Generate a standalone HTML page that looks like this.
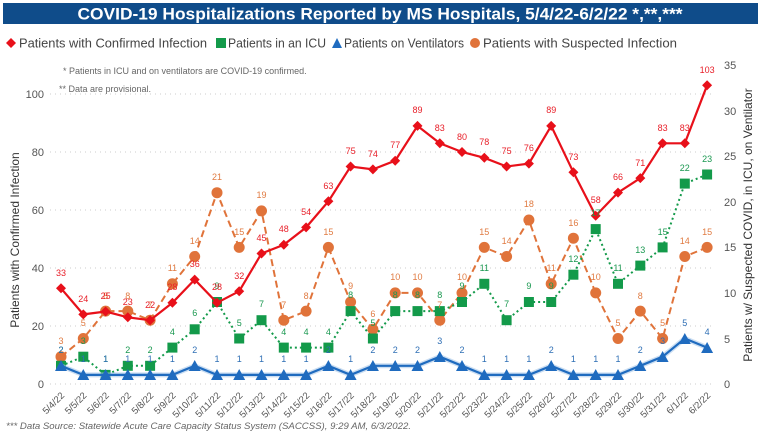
<!DOCTYPE html>
<html><head><meta charset="utf-8"><style>
body{margin:0;background:#fff;}
svg{display:block;font-family:"Liberation Sans",sans-serif;}
.lr text{fill:#e8202a;font-size:9px;text-anchor:middle}
.lg text{fill:#1a9850;font-size:9px;text-anchor:middle}
.lb text{fill:#2f6fb5;font-size:9px;text-anchor:middle}
.lo text{fill:#e07b42;font-size:9px;text-anchor:middle}
.xl text{font-size:9.5px;fill:#555;text-anchor:end}
</style></head><body>
<svg width="763" height="437" viewBox="0 0 763 437">
<rect x="3" y="3" width="755" height="21" fill="#0f4c8a"/>
<text x="380" y="19.5" fill="#fff" font-size="17" font-weight="bold" text-anchor="middle" textLength="605" lengthAdjust="spacingAndGlyphs">COVID-19 Hospitalizations Reported by MS Hospitals, 5/4/22-6/2/22 *,**,***</text>
<g font-size="12.5" fill="#444">
<path d="M11 38l5 5-5 5-5-5z" fill="#e8101a"/>
<text x="19" y="47.5" textLength="188" lengthAdjust="spacingAndGlyphs">Patients with Confirmed Infection</text>
<rect x="216" y="38" width="10" height="10" fill="#139a4a"/>
<text x="228" y="47.5" textLength="98" lengthAdjust="spacingAndGlyphs">Patients in an ICU</text>
<path d="M332 48l5-10 5 10z" fill="#1f6bbf"/>
<text x="344" y="47.5" textLength="120" lengthAdjust="spacingAndGlyphs">Patients on Ventilators</text>
<circle cx="475" cy="43" r="5" fill="#e0733a"/>
<text x="483" y="47.5" textLength="194" lengthAdjust="spacingAndGlyphs">Patients with Suspected Infection</text>
</g>
<text x="63" y="74" font-size="9" fill="#666">* Patients in ICU and on ventilators are COVID-19 confirmed.</text>
<text x="59" y="92" font-size="9" fill="#666">** Data are provisional.</text>
<g stroke="#ccc" stroke-dasharray="1 4" stroke-width="1">
<line x1="50" x2="715" y1="94" y2="94"/><line x1="50" x2="715" y1="152" y2="152"/><line x1="50" x2="715" y1="210" y2="210"/><line x1="50" x2="715" y1="268" y2="268"/><line x1="50" x2="715" y1="326" y2="326"/><line x1="50" x2="715" y1="384" y2="384"/>
</g>
<g font-size="11" fill="#555" text-anchor="end">
<text x="44" y="98">100</text><text x="44" y="156">80</text><text x="44" y="214">60</text><text x="44" y="272">40</text><text x="44" y="330">20</text><text x="44" y="388">0</text>
</g>
<g font-size="11" fill="#555">
<text x="724" y="69">35</text><text x="724" y="115">30</text><text x="724" y="160">25</text><text x="724" y="206">20</text><text x="724" y="251">15</text><text x="724" y="297">10</text><text x="724" y="343">5</text><text x="724" y="388">0</text>
</g>
<text transform="translate(19,240) rotate(-90)" font-size="12" fill="#333" text-anchor="middle">Patients with Confirmed Infection</text>
<text transform="translate(752,225) rotate(-90)" font-size="12" fill="#333" text-anchor="middle">Patients w/ Suspected COVID, in ICU, on Ventilator</text>

<!-- suspected -->
<polyline fill="none" stroke="#e0733a" stroke-width="2" stroke-dasharray="7 4" points="61,356.7 83.3,338.5 105.6,311.1 127.8,311.1 150.1,320.2 172.4,283.8 194.7,256.5 217,192.7 239.2,247.4 261.5,210.9 283.8,320.2 306.1,311.1 328.4,247.4 350.6,302 372.9,329.3 395.2,292.9 417.5,292.9 439.8,320.2 462,292.9 484.3,247.4 506.6,256.5 528.9,220 551.2,283.8 573.4,238.2 595.7,292.9 618,338.5 640.3,311.1 662.6,338.5 684.8,256.5 707.1,247.4"/>
<g fill="#e0733a"><circle cx="61" cy="356.7" r="5.5"/><circle cx="83.3" cy="338.5" r="5.5"/><circle cx="105.6" cy="311.1" r="5.5"/><circle cx="127.8" cy="311.1" r="5.5"/><circle cx="150.1" cy="320.2" r="5.5"/><circle cx="172.4" cy="283.8" r="5.5"/><circle cx="194.7" cy="256.5" r="5.5"/><circle cx="217" cy="192.7" r="5.5"/><circle cx="239.2" cy="247.4" r="5.5"/><circle cx="261.5" cy="210.9" r="5.5"/><circle cx="283.8" cy="320.2" r="5.5"/><circle cx="306.1" cy="311.1" r="5.5"/><circle cx="328.4" cy="247.4" r="5.5"/><circle cx="350.6" cy="302" r="5.5"/><circle cx="372.9" cy="329.3" r="5.5"/><circle cx="395.2" cy="292.9" r="5.5"/><circle cx="417.5" cy="292.9" r="5.5"/><circle cx="439.8" cy="320.2" r="5.5"/><circle cx="462" cy="292.9" r="5.5"/><circle cx="484.3" cy="247.4" r="5.5"/><circle cx="506.6" cy="256.5" r="5.5"/><circle cx="528.9" cy="220" r="5.5"/><circle cx="551.2" cy="283.8" r="5.5"/><circle cx="573.4" cy="238.2" r="5.5"/><circle cx="595.7" cy="292.9" r="5.5"/><circle cx="618" cy="338.5" r="5.5"/><circle cx="640.3" cy="311.1" r="5.5"/><circle cx="662.6" cy="338.5" r="5.5"/><circle cx="684.8" cy="256.5" r="5.5"/><circle cx="707.1" cy="247.4" r="5.5"/></g>

<!-- ICU -->
<polyline fill="none" stroke="#139a4a" stroke-width="2" stroke-dasharray="2 3" points="61,365.8 83.3,356.7 105.6,374.9 127.8,365.8 150.1,365.8 172.4,347.6 194.7,329.3 217,302 239.2,338.5 261.5,320.2 283.8,347.6 306.1,347.6 328.4,347.6 350.6,311.1 372.9,338.5 395.2,311.1 417.5,311.1 439.8,311.1 462,302 484.3,283.8 506.6,320.2 528.9,302 551.2,302 573.4,274.7 595.7,229.1 618,283.8 640.3,265.6 662.6,247.4 684.8,183.6 707.1,174.5"/>
<g fill="#139a4a"><rect x="56" y="360.8" width="10" height="10"/><rect x="78.3" y="351.7" width="10" height="10"/><rect x="100.6" y="369.9" width="10" height="10"/><rect x="122.8" y="360.8" width="10" height="10"/><rect x="145.1" y="360.8" width="10" height="10"/><rect x="167.4" y="342.6" width="10" height="10"/><rect x="189.7" y="324.3" width="10" height="10"/><rect x="212" y="297" width="10" height="10"/><rect x="234.2" y="333.5" width="10" height="10"/><rect x="256.5" y="315.2" width="10" height="10"/><rect x="278.8" y="342.6" width="10" height="10"/><rect x="301.1" y="342.6" width="10" height="10"/><rect x="323.4" y="342.6" width="10" height="10"/><rect x="345.6" y="306.1" width="10" height="10"/><rect x="367.9" y="333.5" width="10" height="10"/><rect x="390.2" y="306.1" width="10" height="10"/><rect x="412.5" y="306.1" width="10" height="10"/><rect x="434.8" y="306.1" width="10" height="10"/><rect x="457" y="297" width="10" height="10"/><rect x="479.3" y="278.8" width="10" height="10"/><rect x="501.6" y="315.2" width="10" height="10"/><rect x="523.9" y="297" width="10" height="10"/><rect x="546.2" y="297" width="10" height="10"/><rect x="568.4" y="269.7" width="10" height="10"/><rect x="590.7" y="224.1" width="10" height="10"/><rect x="613" y="278.8" width="10" height="10"/><rect x="635.3" y="260.6" width="10" height="10"/><rect x="657.6" y="242.4" width="10" height="10"/><rect x="679.8" y="178.6" width="10" height="10"/><rect x="702.1" y="169.5" width="10" height="10"/></g>

<!-- vent -->
<polyline fill="none" stroke="#a9c8ea" stroke-width="5" opacity="0.6" points="61,365.8 83.3,374.9 105.6,374.9 127.8,374.9 150.1,374.9 172.4,374.9 194.7,365.8 217,374.9 239.2,374.9 261.5,374.9 283.8,374.9 306.1,374.9 328.4,365.8 350.6,374.9 372.9,365.8 395.2,365.8 417.5,365.8 439.8,356.7 462,365.8 484.3,374.9 506.6,374.9 528.9,374.9 551.2,365.8 573.4,374.9 595.7,374.9 618,374.9 640.3,365.8 662.6,356.7 684.8,338.5 707.1,347.6"/>
<polyline fill="none" stroke="#1f6bbf" stroke-width="2.2" points="61,365.8 83.3,374.9 105.6,374.9 127.8,374.9 150.1,374.9 172.4,374.9 194.7,365.8 217,374.9 239.2,374.9 261.5,374.9 283.8,374.9 306.1,374.9 328.4,365.8 350.6,374.9 372.9,365.8 395.2,365.8 417.5,365.8 439.8,356.7 462,365.8 484.3,374.9 506.6,374.9 528.9,374.9 551.2,365.8 573.4,374.9 595.7,374.9 618,374.9 640.3,365.8 662.6,356.7 684.8,338.5 707.1,347.6"/>
<g fill="#1f6bbf"><path d="M61 360l-6 11h12z"/><path d="M83.3 369l-6 11h12z"/><path d="M105.6 369l-6 11h12z"/><path d="M127.8 369l-6 11h12z"/><path d="M150.1 369l-6 11h12z"/><path d="M172.4 369l-6 11h12z"/><path d="M194.7 360l-6 11h12z"/><path d="M217 369l-6 11h12z"/><path d="M239.2 369l-6 11h12z"/><path d="M261.5 369l-6 11h12z"/><path d="M283.8 369l-6 11h12z"/><path d="M306.1 369l-6 11h12z"/><path d="M328.4 360l-6 11h12z"/><path d="M350.6 369l-6 11h12z"/><path d="M372.9 360l-6 11h12z"/><path d="M395.2 360l-6 11h12z"/><path d="M417.5 360l-6 11h12z"/><path d="M439.8 351l-6 11h12z"/><path d="M462 360l-6 11h12z"/><path d="M484.3 369l-6 11h12z"/><path d="M506.6 369l-6 11h12z"/><path d="M528.9 369l-6 11h12z"/><path d="M551.2 360l-6 11h12z"/><path d="M573.4 369l-6 11h12z"/><path d="M595.7 369l-6 11h12z"/><path d="M618 369l-6 11h12z"/><path d="M640.3 360l-6 11h12z"/><path d="M662.6 351l-6 11h12z"/><path d="M684.8 333l-6 11h12z"/><path d="M707.1 342l-6 11h12z"/></g>

<!-- confirmed -->
<polyline fill="none" stroke="#e8101a" stroke-width="2.2" points="61,288.3 83.3,314.4 105.6,311.5 127.8,317.3 150.1,320.2 172.4,302.8 194.7,279.6 217,302.8 239.2,291.2 261.5,253.5 283.8,244.8 306.1,227.4 328.4,201.3 350.6,166.5 372.9,169.4 395.2,160.7 417.5,125.9 439.8,143.3 462,152 484.3,157.8 506.6,166.5 528.9,163.6 551.2,125.9 573.4,172.3 595.7,215.8 618,192.6 640.3,178.1 662.6,143.3 684.8,143.3 707.1,85.3"/>
<g fill="#e8101a"><path d="M61 283.3l5 5-5 5-5-5z"/><path d="M83.3 309.4l5 5-5 5-5-5z"/><path d="M105.6 306.5l5 5-5 5-5-5z"/><path d="M127.8 312.3l5 5-5 5-5-5z"/><path d="M150.1 315.2l5 5-5 5-5-5z"/><path d="M172.4 297.8l5 5-5 5-5-5z"/><path d="M194.7 274.6l5 5-5 5-5-5z"/><path d="M217 297.8l5 5-5 5-5-5z"/><path d="M239.2 286.2l5 5-5 5-5-5z"/><path d="M261.5 248.5l5 5-5 5-5-5z"/><path d="M283.8 239.8l5 5-5 5-5-5z"/><path d="M306.1 222.4l5 5-5 5-5-5z"/><path d="M328.4 196.3l5 5-5 5-5-5z"/><path d="M350.6 161.5l5 5-5 5-5-5z"/><path d="M372.9 164.4l5 5-5 5-5-5z"/><path d="M395.2 155.7l5 5-5 5-5-5z"/><path d="M417.5 120.9l5 5-5 5-5-5z"/><path d="M439.8 138.3l5 5-5 5-5-5z"/><path d="M462 147l5 5-5 5-5-5z"/><path d="M484.3 152.8l5 5-5 5-5-5z"/><path d="M506.6 161.5l5 5-5 5-5-5z"/><path d="M528.9 158.6l5 5-5 5-5-5z"/><path d="M551.2 120.9l5 5-5 5-5-5z"/><path d="M573.4 167.3l5 5-5 5-5-5z"/><path d="M595.7 210.8l5 5-5 5-5-5z"/><path d="M618 187.6l5 5-5 5-5-5z"/><path d="M640.3 173.1l5 5-5 5-5-5z"/><path d="M662.6 138.3l5 5-5 5-5-5z"/><path d="M684.8 138.3l5 5-5 5-5-5z"/><path d="M707.1 80.3l5 5-5 5-5-5z"/></g>

<g class="lo"><text x="61" y="344">3</text><text x="83.3" y="326">5</text><text x="105.6" y="299">8</text><text x="127.8" y="299">8</text><text x="150.1" y="308">7</text><text x="172.4" y="271">11</text><text x="194.7" y="244">14</text><text x="217" y="180">21</text><text x="239.2" y="235">15</text><text x="261.5" y="198">19</text><text x="283.8" y="308">7</text><text x="306.1" y="299">8</text><text x="328.4" y="235">15</text><text x="350.6" y="289">9</text><text x="372.9" y="317">6</text><text x="395.2" y="280">10</text><text x="417.5" y="280">10</text><text x="439.8" y="308">7</text><text x="462" y="280">10</text><text x="484.3" y="235">15</text><text x="506.6" y="244">14</text><text x="528.9" y="207">18</text><text x="551.2" y="271">11</text><text x="573.4" y="226">16</text><text x="595.7" y="280">10</text><text x="618" y="326">5</text><text x="640.3" y="299">8</text><text x="662.6" y="326">5</text><text x="684.8" y="244">14</text><text x="707.1" y="235">15</text></g>
<g class="lg"><text x="61" y="353">2</text><text x="83.3" y="344">3</text><text x="105.6" y="362">1</text><text x="127.8" y="353">2</text><text x="150.1" y="353">2</text><text x="172.4" y="335">4</text><text x="194.7" y="316">6</text><text x="217" y="289">9</text><text x="239.2" y="326">5</text><text x="261.5" y="307">7</text><text x="283.8" y="335">4</text><text x="306.1" y="335">4</text><text x="328.4" y="335">4</text><text x="350.6" y="298">8</text><text x="372.9" y="326">5</text><text x="395.2" y="298">8</text><text x="417.5" y="298">8</text><text x="439.8" y="298">8</text><text x="462" y="289">9</text><text x="484.3" y="271">11</text><text x="506.6" y="307">7</text><text x="528.9" y="289">9</text><text x="551.2" y="289">9</text><text x="573.4" y="262">12</text><text x="595.7" y="216">17</text><text x="618" y="271">11</text><text x="640.3" y="253">13</text><text x="662.6" y="235">15</text><text x="684.8" y="171">22</text><text x="707.1" y="162">23</text></g>
<g class="lb"><text x="61" y="353">2</text><text x="83.3" y="362">1</text><text x="105.6" y="362">1</text><text x="127.8" y="362">1</text><text x="150.1" y="362">1</text><text x="172.4" y="362">1</text><text x="194.7" y="353">2</text><text x="217" y="362">1</text><text x="239.2" y="362">1</text><text x="261.5" y="362">1</text><text x="283.8" y="362">1</text><text x="306.1" y="362">1</text><text x="328.4" y="353">2</text><text x="350.6" y="362">1</text><text x="372.9" y="353">2</text><text x="395.2" y="353">2</text><text x="417.5" y="353">2</text><text x="439.8" y="344">3</text><text x="462" y="353">2</text><text x="484.3" y="362">1</text><text x="506.6" y="362">1</text><text x="528.9" y="362">1</text><text x="551.2" y="353">2</text><text x="573.4" y="362">1</text><text x="595.7" y="362">1</text><text x="618" y="362">1</text><text x="640.3" y="353">2</text><text x="662.6" y="344">3</text><text x="684.8" y="326">5</text><text x="707.1" y="335">4</text></g>
<g class="lr"><text x="61" y="276">33</text><text x="83.3" y="302">24</text><text x="105.6" y="299">25</text><text x="127.8" y="305">23</text><text x="150.1" y="308">22</text><text x="172.4" y="290">28</text><text x="194.7" y="267">36</text><text x="217" y="290">28</text><text x="239.2" y="279">32</text><text x="261.5" y="241">45</text><text x="283.8" y="232">48</text><text x="306.1" y="215">54</text><text x="328.4" y="189">63</text><text x="350.6" y="154">75</text><text x="372.9" y="157">74</text><text x="395.2" y="148">77</text><text x="417.5" y="113">89</text><text x="439.8" y="131">83</text><text x="462" y="140">80</text><text x="484.3" y="145">78</text><text x="506.6" y="154">75</text><text x="528.9" y="151">76</text><text x="551.2" y="113">89</text><text x="573.4" y="160">73</text><text x="595.7" y="203">58</text><text x="618" y="180">66</text><text x="640.3" y="166">71</text><text x="662.6" y="131">83</text><text x="684.8" y="131">83</text><text x="707.1" y="73">103</text></g>

<g class="xl">
<text transform="translate(65,396) rotate(-45)">5/4/22</text><text transform="translate(87.3,396) rotate(-45)">5/5/22</text><text transform="translate(109.6,396) rotate(-45)">5/6/22</text><text transform="translate(131.8,396) rotate(-45)">5/7/22</text><text transform="translate(154.1,396) rotate(-45)">5/8/22</text><text transform="translate(176.4,396) rotate(-45)">5/9/22</text><text transform="translate(198.7,396) rotate(-45)">5/10/22</text><text transform="translate(221,396) rotate(-45)">5/11/22</text><text transform="translate(243.2,396) rotate(-45)">5/12/22</text><text transform="translate(265.5,396) rotate(-45)">5/13/22</text><text transform="translate(287.8,396) rotate(-45)">5/14/22</text><text transform="translate(310.1,396) rotate(-45)">5/15/22</text><text transform="translate(332.4,396) rotate(-45)">5/16/22</text><text transform="translate(354.6,396) rotate(-45)">5/17/22</text><text transform="translate(376.9,396) rotate(-45)">5/18/22</text><text transform="translate(399.2,396) rotate(-45)">5/19/22</text><text transform="translate(421.5,396) rotate(-45)">5/20/22</text><text transform="translate(443.8,396) rotate(-45)">5/21/22</text><text transform="translate(466,396) rotate(-45)">5/22/22</text><text transform="translate(488.3,396) rotate(-45)">5/23/22</text><text transform="translate(510.6,396) rotate(-45)">5/24/22</text><text transform="translate(532.9,396) rotate(-45)">5/25/22</text><text transform="translate(555.2,396) rotate(-45)">5/26/22</text><text transform="translate(577.4,396) rotate(-45)">5/27/22</text><text transform="translate(599.7,396) rotate(-45)">5/28/22</text><text transform="translate(622,396) rotate(-45)">5/29/22</text><text transform="translate(644.3,396) rotate(-45)">5/30/22</text><text transform="translate(666.6,396) rotate(-45)">5/31/22</text><text transform="translate(688.8,396) rotate(-45)">6/1/22</text><text transform="translate(711.1,396) rotate(-45)">6/2/22</text>
</g>
<text x="6" y="429" font-size="9.5" font-style="italic" fill="#666" textLength="405" lengthAdjust="spacingAndGlyphs">*** Data Source: Statewide Acute Care Capacity Status System (SACCSS), 9:29 AM, 6/3/2022.</text>
</svg>
</body></html>
